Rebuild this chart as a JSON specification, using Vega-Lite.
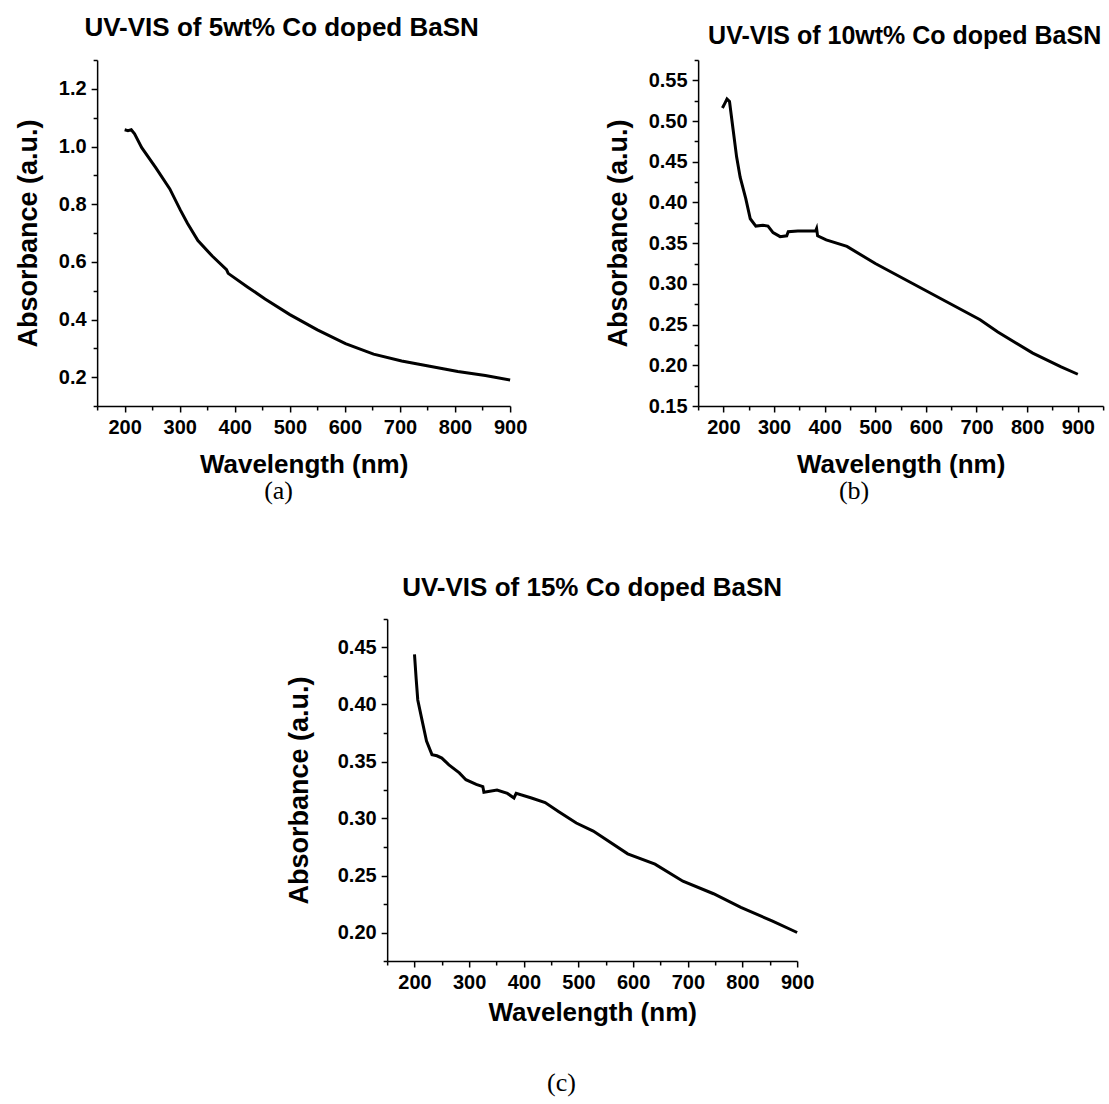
{
  "$schema": "https://vega.github.io/schema/vega-lite/v6.json",
  "background": "white",
  "padding": {"left": 14, "top": 15, "right": 2, "bottom": 2},
  "config": {
    "view": {"stroke": null},
    "axis": {"domainColor": "#000", "domainWidth": 1.5, "tickColor": "#000", "tickWidth": 1.5, "labelFont": "Liberation Sans", "labelFontSize": 20, "labelFontWeight": "bold", "labelColor": "#000", "titleFont": "Liberation Sans", "titleFontSize": 26, "titleFontWeight": "bold", "titleColor": "#000", "grid": false, "labelPadding": 5, "labelFlush": false, "labelOverlap": false},
    "axisY": {"titleFontSize": 27},
    "title": {"font": "Liberation Sans", "fontSize": 26, "fontWeight": "bold", "color": "#000"}
  },
  "datasets": {
    "a": [
      {"wl": 200, "abs": 1.058}, {"wl": 206, "abs": 1.055}, {"wl": 212, "abs": 1.058}, {"wl": 218, "abs": 1.044}, {"wl": 231, "abs": 0.996},
      {"wl": 257, "abs": 0.925}, {"wl": 282, "abs": 0.853}, {"wl": 301, "abs": 0.78}, {"wl": 314, "abs": 0.734}, {"wl": 333, "abs": 0.674},
      {"wl": 359, "abs": 0.62}, {"wl": 385, "abs": 0.573}, {"wl": 388, "abs": 0.56}, {"wl": 423, "abs": 0.513}, {"wl": 455, "abs": 0.471},
      {"wl": 500, "abs": 0.417}, {"wl": 550, "abs": 0.364}, {"wl": 601, "abs": 0.316}, {"wl": 652, "abs": 0.28}, {"wl": 703, "abs": 0.256},
      {"wl": 754, "abs": 0.238}, {"wl": 805, "abs": 0.22}, {"wl": 855, "abs": 0.206}, {"wl": 900, "abs": 0.19}
    ],
    "b": [
      {"wl": 198, "abs": 0.516}, {"wl": 203, "abs": 0.522}, {"wl": 207, "abs": 0.527}, {"wl": 212, "abs": 0.524}, {"wl": 219, "abs": 0.49},
      {"wl": 226, "abs": 0.456}, {"wl": 233, "abs": 0.431}, {"wl": 244, "abs": 0.405}, {"wl": 253, "abs": 0.38}, {"wl": 264, "abs": 0.371},
      {"wl": 278, "abs": 0.372}, {"wl": 288, "abs": 0.371}, {"wl": 298, "abs": 0.363}, {"wl": 312, "abs": 0.358}, {"wl": 325, "abs": 0.359},
      {"wl": 328, "abs": 0.364}, {"wl": 347, "abs": 0.365}, {"wl": 382, "abs": 0.365}, {"wl": 384, "abs": 0.368}, {"wl": 386, "abs": 0.359},
      {"wl": 403, "abs": 0.354}, {"wl": 444, "abs": 0.346}, {"wl": 500, "abs": 0.325}, {"wl": 569, "abs": 0.302}, {"wl": 638, "abs": 0.279},
      {"wl": 707, "abs": 0.256}, {"wl": 742, "abs": 0.241}, {"wl": 811, "abs": 0.215}, {"wl": 867, "abs": 0.198}, {"wl": 900, "abs": 0.189}
    ],
    "c": [
      {"wl": 200, "abs": 0.444}, {"wl": 203, "abs": 0.423}, {"wl": 206, "abs": 0.404}, {"wl": 213, "abs": 0.388}, {"wl": 222, "abs": 0.368},
      {"wl": 232, "abs": 0.356}, {"wl": 241, "abs": 0.355}, {"wl": 250, "abs": 0.353}, {"wl": 263, "abs": 0.347}, {"wl": 282, "abs": 0.34},
      {"wl": 294, "abs": 0.334}, {"wl": 313, "abs": 0.33}, {"wl": 325, "abs": 0.328}, {"wl": 327, "abs": 0.323}, {"wl": 351, "abs": 0.325},
      {"wl": 370, "abs": 0.322}, {"wl": 382, "abs": 0.318}, {"wl": 386, "abs": 0.322}, {"wl": 414, "abs": 0.318}, {"wl": 439, "abs": 0.314},
      {"wl": 464, "abs": 0.306}, {"wl": 496, "abs": 0.296}, {"wl": 527, "abs": 0.289}, {"wl": 590, "abs": 0.269}, {"wl": 640, "abs": 0.26},
      {"wl": 691, "abs": 0.245}, {"wl": 747, "abs": 0.234}, {"wl": 797, "abs": 0.222}, {"wl": 855, "abs": 0.21}, {"wl": 900, "abs": 0.2}
    ]
  },
  "vconcat": [
    {
      "hconcat": [
        {
          "title": {"text": "(a)", "orient": "bottom", "anchor": "middle", "font": "Liberation Serif", "fontSize": 26, "fontWeight": "normal", "offset": 1, "dx": 8},
          "vconcat": [
            {
              "width": 413, "height": 346,
              "title": {"text": "UV-VIS of 5wt% Co doped BaSN", "offset": 9, "anchor": "middle", "frame": "group", "dx": -22},
              "data": {"name": "a"},
              "mark": {"type": "line", "color": "#000", "strokeWidth": 3},
              "encoding": {
                "x": {"field": "wl", "type": "quantitative", "scale": {"domain": [150, 900], "nice": false, "zero": false},
                  "axis": {"title": "Wavelength (nm)", "values": [150, 200, 250, 300, 350, 400, 450, 500, 550, 600, 650, 700, 750, 800, 850, 900],
                    "labelExpr": "datum.value % 100 == 0 ? datum.label : ''",
                    "tickSize": {"condition": {"test": "datum.value % 100 == 0", "value": 6}, "value": 4}, "titlePadding": 14}},
                "y": {"field": "abs", "type": "quantitative", "scale": {"domain": [0.1, 1.3], "nice": false, "zero": false},
                  "axis": {"title": "Absorbance (a.u.)", "values": [0.1, 0.2, 0.3, 0.4, 0.5, 0.6, 0.7, 0.8, 0.9, 1.0, 1.1, 1.2, 1.3],
                    "labelExpr": "round(datum.value*10) % 2 == 0 ? format(datum.value, '.1f') : ''",
                    "tickSize": {"condition": {"test": "round(datum.value*10) % 2 == 0", "value": 6}, "value": 4}, "titlePadding": 16}}
              }
            }
          ]
        },
        {
          "title": {"text": "(b)", "orient": "bottom", "anchor": "middle", "font": "Liberation Serif", "fontSize": 26, "fontWeight": "normal", "offset": 1, "dx": 0},
          "vconcat": [
            {
              "width": 405, "height": 346,
              "title": {"text": "UV-VIS of 10wt% Co doped BaSN", "offset": 1, "anchor": "middle", "frame": "group", "dx": 4, "fontSize": 25},
              "data": {"name": "b"},
              "mark": {"type": "line", "color": "#000", "strokeWidth": 3},
              "encoding": {
                "x": {"field": "wl", "type": "quantitative", "scale": {"domain": [150, 950], "nice": false, "zero": false},
                  "axis": {"title": "Wavelength (nm)", "values": [150, 200, 250, 300, 350, 400, 450, 500, 550, 600, 650, 700, 750, 800, 850, 900, 950],
                    "labelExpr": "datum.value % 100 == 0 ? datum.label : ''",
                    "tickSize": {"condition": {"test": "datum.value % 100 == 0", "value": 6}, "value": 4}, "titlePadding": 14}},
                "y": {"field": "abs", "type": "quantitative", "scale": {"domain": [0.15, 0.575], "nice": false, "zero": false},
                  "axis": {"title": "Absorbance (a.u.)", "values": [0.15, 0.175, 0.2, 0.225, 0.25, 0.275, 0.3, 0.325, 0.35, 0.375, 0.4, 0.425, 0.45, 0.475, 0.5, 0.525, 0.55, 0.575],
                    "labelExpr": "round(datum.value*1000) % 50 == 0 ? format(datum.value, '.2f') : ''",
                    "tickSize": {"condition": {"test": "round(datum.value*1000) % 50 == 0", "value": 6}, "value": 4}, "titlePadding": 16}}
              }
            }
          ]
        }
      ],
      "spacing": 77
    },
    {
      "title": {"text": "(c)", "orient": "bottom", "anchor": "middle", "font": "Liberation Serif", "fontSize": 26, "fontWeight": "normal", "offset": 45, "dx": 12},
      "vconcat": [
        {
          "width": 410, "height": 342,
          "title": {"text": "UV-VIS of 15% Co doped BaSN", "offset": 8, "anchor": "middle", "frame": "group"},
          "data": {"name": "c"},
          "mark": {"type": "line", "color": "#000", "strokeWidth": 3},
          "encoding": {
            "x": {"field": "wl", "type": "quantitative", "scale": {"domain": [150, 900], "nice": false, "zero": false},
              "axis": {"title": "Wavelength (nm)", "values": [150, 200, 250, 300, 350, 400, 450, 500, 550, 600, 650, 700, 750, 800, 850, 900],
                "labelExpr": "datum.value % 100 == 0 ? datum.label : ''",
                "tickSize": {"condition": {"test": "datum.value % 100 == 0", "value": 6}, "value": 4}, "titlePadding": 7}},
            "y": {"field": "abs", "type": "quantitative", "scale": {"domain": [0.175, 0.475], "nice": false, "zero": false},
              "axis": {"title": "Absorbance (a.u.)", "values": [0.175, 0.2, 0.225, 0.25, 0.275, 0.3, 0.325, 0.35, 0.375, 0.4, 0.425, 0.45, 0.475],
                "labelExpr": "round(datum.value*1000) % 50 == 0 ? format(datum.value, '.2f') : ''",
                "tickSize": {"condition": {"test": "round(datum.value*1000) % 50 == 0", "value": 6}, "value": 4}, "titlePadding": 24}}
          }
        }
      ]
    }
  ],
  "spacing": 71,
  "center": true
}
